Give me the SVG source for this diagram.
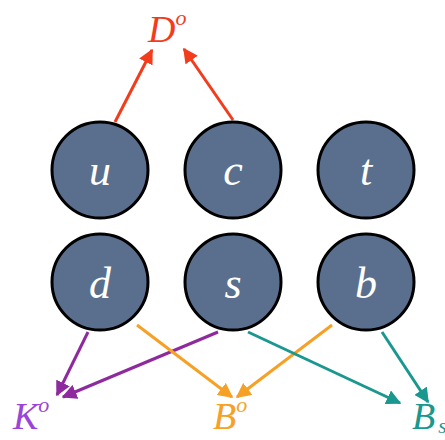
<svg xmlns="http://www.w3.org/2000/svg" width="445" height="440" viewBox="0 0 445 440">
<style>
.node circle{fill:#5a6f8e;stroke:#000;stroke-width:3}
.node text{fill:#fff;font-family:"Liberation Serif",serif;font-style:italic;font-size:44px;text-anchor:middle}
.lbl{font-family:"Liberation Serif",serif;font-style:italic;font-size:38px}
.sup{font-size:22px}
.c line{stroke-width:3}
</style>
<defs>
<marker id="ar" viewBox="0 0 10 10" refX="9" refY="5" markerWidth="5" markerHeight="5" orient="auto" markerUnits="strokeWidth"><path d="M0,0L10,5L0,10z" fill="#f23c1c"/></marker>
<marker id="ap" viewBox="0 0 10 10" refX="9" refY="5" markerWidth="5" markerHeight="5" orient="auto" markerUnits="strokeWidth"><path d="M0,0L10,5L0,10z" fill="#8e2a9e"/></marker>
<marker id="ao" viewBox="0 0 10 10" refX="9" refY="5" markerWidth="5" markerHeight="5" orient="auto" markerUnits="strokeWidth"><path d="M0,0L10,5L0,10z" fill="#f6a125"/></marker>
<marker id="at" viewBox="0 0 10 10" refX="9" refY="5" markerWidth="5" markerHeight="5" orient="auto" markerUnits="strokeWidth"><path d="M0,0L10,5L0,10z" fill="#1a9890"/></marker>
</defs>
<g class="c" id="connectors">
<line x1="115" y1="122" x2="152" y2="50" stroke="#f23c1c" marker-end="url(#ar)"/>
<line x1="233" y1="120" x2="184" y2="49" stroke="#f23c1c" marker-end="url(#ar)"/>
<line x1="88" y1="332" x2="57" y2="395" stroke="#8e2a9e" marker-end="url(#ap)"/>
<line x1="218" y1="332" x2="63" y2="397" stroke="#8e2a9e" marker-end="url(#ap)"/>
<line x1="137" y1="325" x2="232" y2="397" stroke="#f6a125" marker-end="url(#ao)"/>
<line x1="332" y1="325" x2="237" y2="397" stroke="#f6a125" marker-end="url(#ao)"/>
<line x1="248" y1="332" x2="400" y2="403" stroke="#1a9890" marker-end="url(#at)"/>
<line x1="382" y1="332" x2="428" y2="402" stroke="#1a9890" marker-end="url(#at)"/>
</g>
<g id="u" class="node"><circle cx="100" cy="170" r="48"/><text x="100" y="185">u</text></g>
<g id="c" class="node"><circle cx="233" cy="170" r="48"/><text x="233" y="185">c</text></g>
<g id="t" class="node"><circle cx="366" cy="170" r="48"/><text x="366" y="185">t</text></g>
<g id="d" class="node"><circle cx="100" cy="282" r="48"/><text x="100" y="298">d</text></g>
<g id="s" class="node"><circle cx="233" cy="282" r="48"/><text x="233" y="298">s</text></g>
<g id="b" class="node"><circle cx="366" cy="282" r="48"/><text x="366" y="298">b</text></g>
<g id="D0"><text class="lbl" x="148" y="42" fill="#f23c1c">D<tspan class="sup" dy="-17">o</tspan></text></g>
<g id="K0"><text class="lbl" x="13" y="429" fill="#9a45d8">K<tspan class="sup" dy="-17">o</tspan></text></g>
<g id="B0"><text class="lbl" x="213" y="429" fill="#f6a125">B<tspan class="sup" dy="-17">o</tspan></text></g>
<g id="Bs"><text class="lbl" x="412" y="429" fill="#1a9890">B<tspan class="sup" dx="3" dy="4">s</tspan></text></g>
</svg>
